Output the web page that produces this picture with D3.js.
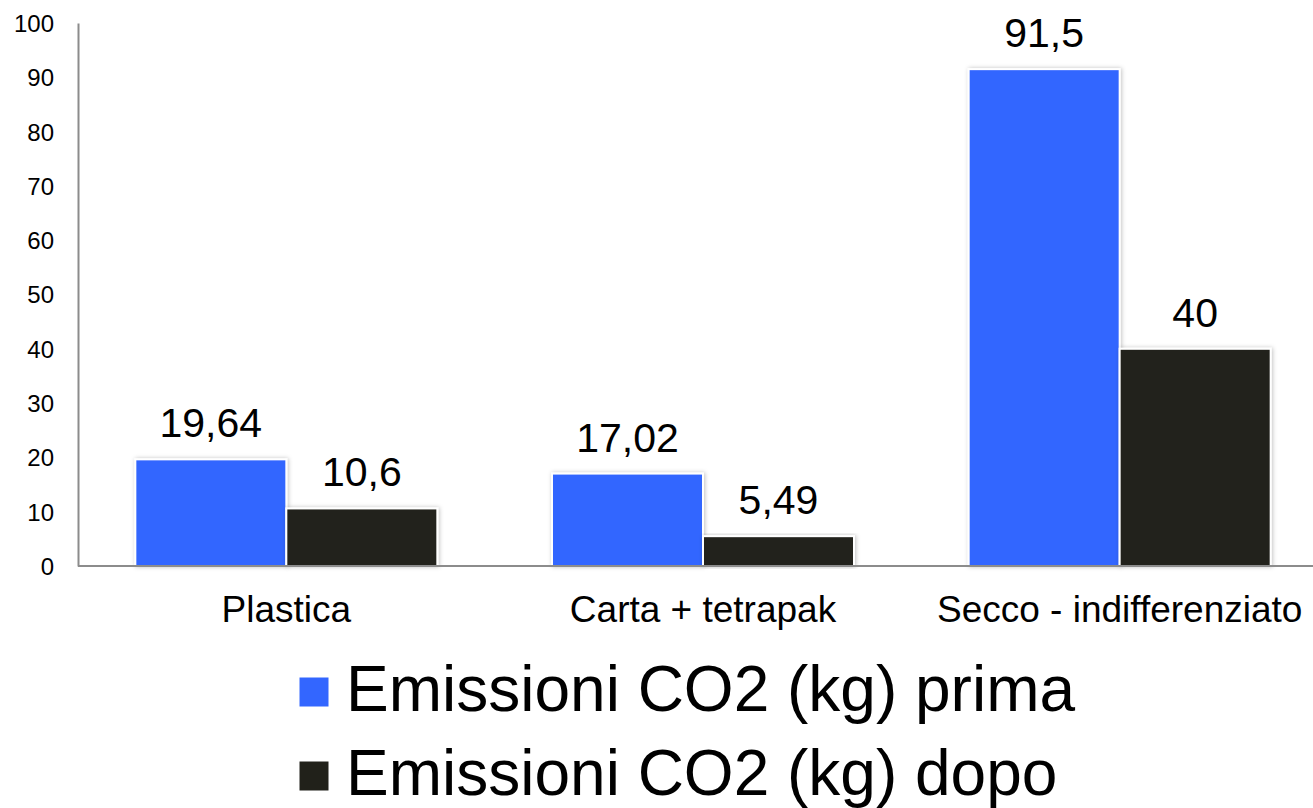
<!DOCTYPE html>
<html><head><meta charset="utf-8">
<script src="https://cdn.jsdelivr.net/npm/d3@7/dist/d3.min.js"></script>
<style>body{margin:0;background:#fff;}svg{display:block;font-family:"Liberation Sans",Arial,sans-serif;}</style>
</head><body>
<svg id="c" width="1313" height="808"></svg>
<script>
const categories = ["Plastica", "Carta + tetrapak", "Secco - indifferenziato"];
const seriesNames = ["Emissioni CO2 (kg) prima", "Emissioni CO2 (kg) dopo"];
const prima = [19.64, 17.02, 91.5];
const dopo = [10.6, 5.49, 40];
const valueLabels = [["19,64", "17,02", "91,5"], ["10,6", "5,49", "40"]];
const yTicks = [0, 10, 20, 30, 40, 50, 60, 70, 80, 90, 100];
const colors = ["#3366FF", "#21211A"];

const svg = d3.select("#c");
const defs = svg.append("defs");
const f = defs.append("filter").attr("id","sh").attr("x","-10%").attr("y","-10%").attr("width","120%").attr("height","120%");
f.append("feDropShadow").attr("dx",1).attr("dy",0).attr("stdDeviation",2).attr("flood-color","#000").attr("flood-opacity",0.25);

const x0 = 78, y0 = 566, yTop = 23;
const y = d3.scaleLinear().domain([0,100]).range([y0, yTop]);
const x = d3.scaleBand().domain(categories).range([x0, 1328]).paddingInner(0).paddingOuter(0);
const x1 = d3.scaleBand().domain([0,1]).range([0, 302]);
const groupOffset = (x.bandwidth() - 302)/2;

const series = [prima, dopo];

// axes
const yAxis = d3.axisLeft(y).tickValues(yTicks).tickSize(0).tickPadding(24);
const gy = svg.append("g").attr("transform",`translate(${x0},0)`).call(yAxis);
gy.select(".domain").attr("stroke","#8c8c8c").attr("stroke-width",2);
gy.selectAll("text").attr("font-size",24).attr("fill","#000").attr("dy","0.35em");

series.forEach((vals, s) => {
  svg.append("g").selectAll("rect").data(vals).join("rect")
    .attr("x",(d,i)=>x(categories[i]) + groupOffset + x1(s))
    .attr("y",d=>y(d))
    .attr("width",x1.bandwidth())
    .attr("height",d=>y0 - y(d))
    .attr("fill",colors[s])
    .attr("stroke","#fff").attr("stroke-width",2)
    .attr("filter","url(#sh)");
  svg.append("g").selectAll("text").data(vals).join("text")
    .attr("x",(d,i)=>x(categories[i]) + groupOffset + x1(s) + x1.bandwidth()/2)
    .attr("y",d=>y(d) - 22)
    .attr("text-anchor","middle").attr("font-size",41).attr("fill","#000")
    .text((d,i)=>valueLabels[s][i]);
});

const xAxis = d3.axisBottom(x).tickSize(0).tickPadding(30);
const gx = svg.append("g").attr("transform",`translate(0,${y0})`).call(xAxis);
gx.select(".domain").attr("stroke","#8c8c8c").attr("stroke-width",2).attr("d",`M${x0},0H1313`);
gx.selectAll("text").attr("font-size",37).attr("fill","#000");

// legend
const leg = svg.append("g");
const legY = [692, 776];
seriesNames.forEach((n,i)=>{
  leg.append("rect").attr("x",299).attr("y",legY[i]-15).attr("width",30).attr("height",30)
    .attr("fill",colors[i]).attr("stroke","#fff").attr("stroke-width",1);
  leg.append("text").attr("x",346).attr("y",legY[i] + 19)
    .attr("font-size",64).attr("fill","#000").text(n);
});
</script>
</body></html>
